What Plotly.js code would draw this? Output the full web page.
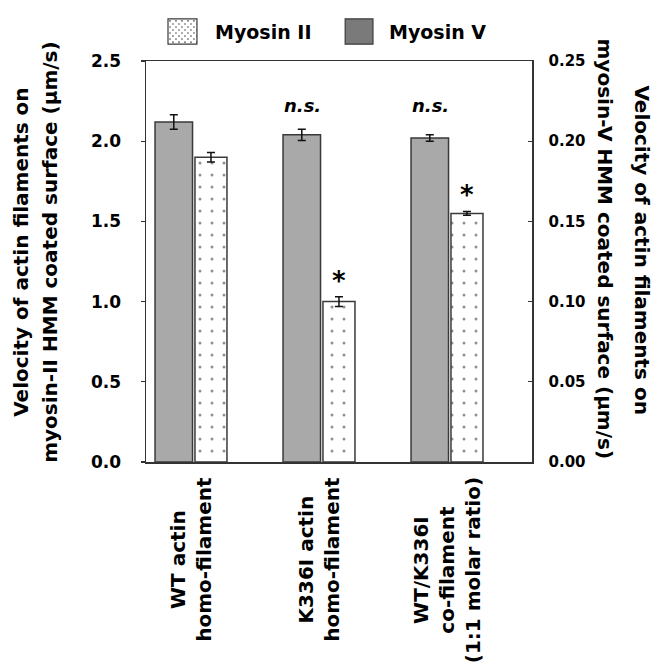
<!DOCTYPE html>
<html>
<head>
<meta charset="utf-8">
<script src="https://cdn.plot.ly/plotly-3.0.1.min.js"></script>
<style>html,body{margin:0;padding:0;background:#fff;}#chart{width:654px;height:665px;}</style>
</head>
<body>
<div id="chart"></div>
<script>
// ---- data ----
const categories = ["WT actin homo-filament", "K336I actin homo-filament", "WT/K336I co-filament"];
const categoryLabels = ["WT actin<br>homo-filament", "K336I actin<br>homo-filament", "WT/K336I<br>co-filament<br>(1:1 molar ratio)"];
const myosinII = [1.90, 1.00, 1.55];        // left axis, µm/s
const myosinIIErr = [0.03, 0.03, 0.012];
const myosinV = [0.212, 0.204, 0.202];      // right axis, µm/s
const myosinVErr = [0.0045, 0.0035, 0.002];
const leftTicks = [0, 0.5, 1.0, 1.5, 2.0, 2.5];
const rightTicks = [0, 0.05, 0.10, 0.15, 0.20, 0.25];
const sigMarks = [
  {cat: 1, series: "V", text: "<i>n.s.</i>"},
  {cat: 2, series: "V", text: "<i>n.s.</i>"},
  {cat: 1, series: "II", text: "*"},
  {cat: 2, series: "II", text: "*"}
];

const FONT = "DejaVu Sans, Verdana, sans-serif";
const grayFill = "#a9a9a9";
const outline = "#3a3a3a";

const traceV = {
  type: "bar", x: categories, y: myosinV, yaxis: "y2", name: "Myosin V",
  offset: -0.281, width: 0.293,
  marker: {color: grayFill, line: {color: outline, width: 1.5}},
  error_y: {type: "data", array: myosinVErr, color: "#111", thickness: 1.5, width: 4},
  showlegend: false, hoverinfo: "skip"
};
const traceII = {
  type: "bar", x: categories, y: myosinII, yaxis: "y", name: "Myosin II",
  offset: 0.031, width: 0.25,
  marker: {color: "#ffffff", line: {color: outline, width: 1.5},
    pattern: {shape: ".", bgcolor: "#ffffff", fgcolor: "#222", size: 12, solidity: 0.05, fillmode: "overlay"}},
  error_y: {type: "data", array: myosinIIErr, color: "#111", thickness: 1.5, width: 4},
  showlegend: false, hoverinfo: "skip"
};

const annotations = [];
// category labels
categoryLabels.forEach((lab, i) => {
  annotations.push({x: i, xref: "x", y: -0.033, yref: "paper", text: lab, showarrow: false,
    textangle: -90, xanchor: "center", yanchor: "top", align: "center",
    font: {family: FONT, size: 20, color: "#000", weight: "bold"}});
});
// significance marks
sigMarks.forEach(m => {
  if (m.series === "V") {
    annotations.push({x: m.cat - 0.13, xref: "x", y: 0.2225, yref: "y2",
      text: m.text, showarrow: false, yanchor: "middle",
      font: {family: FONT, size: 18, color: "#000", weight: "bold"}});
  } else {
    annotations.push({x: m.cat + 0.156, xref: "x", y: myosinII[m.cat] + myosinIIErr[m.cat] + 0.1, yref: "y",
      text: m.text, showarrow: false, yanchor: "middle",
      font: {family: FONT, size: 26, color: "#000", weight: "bold"}});
  }
});
// axis titles (as annotations for precise placement)
const tfont = {family: FONT, size: 20, color: "#000", weight: "bold"};
annotations.push({x: -0.324, xref: "paper", y: 0.524, yref: "paper", text: "Velocity of actin filaments on",
  textangle: -90, showarrow: false, xanchor: "center", yanchor: "middle", font: tfont});
annotations.push({x: -0.249, xref: "paper", y: 0.524, yref: "paper", text: "myosin-II HMM coated surface (μm/s)",
  textangle: -90, showarrow: false, xanchor: "center", yanchor: "middle", font: tfont});
annotations.push({x: 1.285, xref: "paper", y: 0.53, yref: "paper", text: "Velocity of actin filaments on",
  textangle: 90, showarrow: false, xanchor: "center", yanchor: "middle", font: tfont});
annotations.push({x: 1.189, xref: "paper", y: 0.53, yref: "paper", text: "myosin-V HMM coated surface (μm/s)",
  textangle: 90, showarrow: false, xanchor: "center", yanchor: "middle", font: tfont});
// legend text
const lfont = {family: FONT, size: 19, color: "#000", weight: "bold"};
annotations.push({x: 0.174, xref: "paper", y: 1.073, yref: "paper", text: "Myosin II", showarrow: false,
  xanchor: "left", yanchor: "middle", font: lfont});
annotations.push({x: 0.624, xref: "paper", y: 1.073, yref: "paper", text: "Myosin V", showarrow: false,
  xanchor: "left", yanchor: "middle", font: lfont});

// legend dotted box as svg image
let dots = "";
for (let yy = 2; yy < 25; yy += 6) {
  for (let xx = 2; xx < 29; xx += 6) {
    dots += `<circle cx="${xx}" cy="${yy}" r="0.8" fill="#444"/>`;
    dots += `<circle cx="${xx + 3}" cy="${yy + 3}" r="0.8" fill="#444"/>`;
  }
}
const svg = `<svg xmlns="http://www.w3.org/2000/svg" width="29" height="25" viewBox="0 0 29 25"><rect x="0" y="0" width="29" height="25" fill="#fff"/>${dots}</svg>`;
const src = "data:image/svg+xml;charset=utf-8," + encodeURIComponent(svg);

const layout = {
  width: 654, height: 665,
  margin: {l: 146, r: 122, t: 61, b: 203},
  paper_bgcolor: "#fff", plot_bgcolor: "#fff",
  showlegend: false,
  xaxis: {type: "category", categoryorder: "array", categoryarray: categories,
    range: [-0.3516, 2.664], showticklabels: false, ticks: "", showline: true, mirror: true,
    linecolor: "#333", linewidth: 1.5, showgrid: false, zeroline: false, fixedrange: true},
  yaxis: {range: [0, 2.5], tickvals: leftTicks, ticktext: leftTicks.map(v => v.toFixed(1)),
    ticks: "outside", ticklen: 4, tickwidth: 1.2, tickcolor: "#333",
    showline: true, linecolor: "#333", linewidth: 1.5, showgrid: false, zeroline: false,
    tickfont: {family: FONT, size: 17, color: "#000", weight: "bold"}, ticklabelstandoff: 16},
  yaxis2: {range: [0, 0.25], overlaying: "y", side: "right", tickvals: rightTicks,
    ticktext: rightTicks.map(v => v.toFixed(2)),
    ticks: "inside", ticklen: 4, tickwidth: 1.2, tickcolor: "#333",
    showline: true, linecolor: "#333", linewidth: 1.5, showgrid: false, zeroline: false,
    tickfont: {family: FONT, size: 15, color: "#000", weight: "bold"}, ticklabelstandoff: 12},
  annotations: annotations,
  images: [{source: src, xref: "paper", yref: "paper", x: 0.057, y: 1.105, sizex: 0.075, sizey: 0.063,
    xanchor: "left", yanchor: "top", sizing: "stretch", layer: "above"}],
  shapes: [
    {type: "rect", xref: "paper", yref: "paper", x0: 0.057, x1: 0.132, y0: 1.042, y1: 1.105,
      line: {color: outline, width: 1.2}, fillcolor: "rgba(0,0,0,0)"},
    {type: "rect", xref: "paper", yref: "paper", x0: 0.516, x1: 0.588, y0: 1.042, y1: 1.105,
      line: {color: outline, width: 1.2}, fillcolor: "#7a7a7a"}
  ]
};

Plotly.newPlot("chart", [traceV, traceII], layout, {staticPlot: true, displayModeBar: false});
</script>
</body>
</html>
